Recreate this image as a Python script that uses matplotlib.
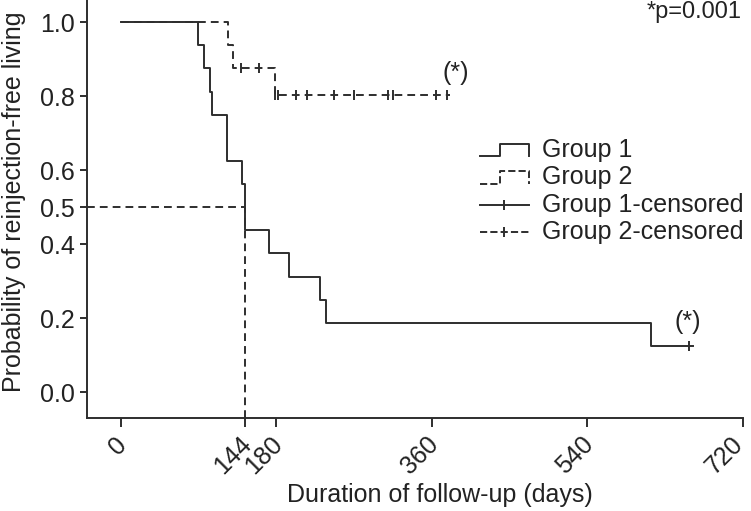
import numpy as np
import matplotlib.pyplot as plt
import matplotlib.transforms as mtransforms
from matplotlib.legend_handler import HandlerBase
from matplotlib.lines import Line2D

plt.rcParams['font.family'] = ['Liberation Sans', 'DejaVu Sans']

# Kaplan-Meier estimates (days, survival)
g1_times = [0, 90, 96, 103, 106, 123, 140.5, 143.5, 171, 195, 231, 238, 614]
g1_surv = [1.0, 0.9375, 0.875, 0.8125, 0.75, 0.625, 0.5625, 0.4375, 0.375, 0.3125, 0.25, 0.1875, 0.125]
g1_end = 662
g1_censor = [658]

g2_times = [0, 124, 130, 178]
g2_surv = [1.0, 0.9375, 0.875, 0.802]
g2_end = 381
g2_censor = [139, 160.5, 178.6, 181.7, 202.6, 215.3, 247.2, 269.4, 309.7, 315.5, 364.9, 377.3]

median_day = 144
median_surv = 0.5

xticks = [0, 144, 180, 360, 540, 720]
yticks = [0.0, 0.2, 0.4, 0.5, 0.6, 0.8, 1.0]

col = '#2e2e2e'
tcol = '#222222'
lw = 1.4
fs = 18
dash = (0, (4, 2.6))


def surv_at(times, surv, t):
    i = np.searchsorted(times, t, side='right') - 1
    return np.array(surv)[i]


class StepHandler(HandlerBase):
    def create_artists(self, legend, orig, xd, yd, w, h, fs, trans):
        x = [-xd, -xd + 0.4 * w, -xd + 0.4 * w, -xd + w, -xd + w]
        y = [-yd + 0.05 * h, -yd + 0.05 * h, -yd + 0.75 * h, -yd + 0.75 * h, -yd + 0.05 * h]
        ln = Line2D(x, y, color=orig.get_color(), lw=orig.get_linewidth(),
                    linestyle=orig.get_linestyle(), transform=trans)
        return [ln]


class CensorHandler(HandlerBase):
    def create_artists(self, legend, orig, xd, yd, w, h, fs, trans):
        ym = -yd + 0.4 * h
        ln = Line2D([-xd, -xd + w], [ym, ym], color=orig.get_color(), lw=orig.get_linewidth(),
                    linestyle=orig.get_linestyle(), transform=trans)
        mk = Line2D([-xd + w / 2], [ym], color=orig.get_color(), marker='|', ms=7, mew=lw,
                    ls='none', transform=trans)
        return [ln, mk]


fig = plt.figure(figsize=(7.51, 5.11), dpi=100)
ax = fig.add_axes([87 / 751, 93 / 511, 656 / 751, 418 / 511])

# median lines
ax.plot([-39, median_day], [median_surv, median_surv], color=col, lw=lw, ls=dash)
ax.plot([median_day, median_day], [-0.07, median_surv], color=col, lw=lw, ls=dash)

# group 2 (dashed) then group 1 (solid) on top
g2_x = g2_times + [g2_end]
g2_y = g2_surv + [g2_surv[-1]]
ax.step(g2_x, g2_y, where='post', color=col, lw=lw, ls=dash)
ax.plot(g2_censor, surv_at(g2_times, g2_surv, g2_censor), ls='none', marker='|',
        ms=7, mew=lw, color=col)

g1_x = g1_times + [g1_end]
g1_y = g1_surv + [g1_surv[-1]]
ax.step(g1_x, g1_y, where='post', color=col, lw=lw)
ax.plot(g1_censor, surv_at(g1_times, g1_surv, g1_censor), ls='none', marker='|',
        ms=7, mew=lw, color=col)

ax.text(388, 0.862, '(*)', fontsize=fs, ha='center', va='center', color=tcol)
ax.text(656, 0.19, '(*)', fontsize=fs, ha='center', va='center', color=tcol)
ax.text(719, 1.01, '*p=0.001', fontsize=fs - 1, ha='right', va='baseline', color=tcol)

ax.set_xlim(-39, 720)
ax.set_ylim(-0.07, 1.06)
ax.set_xticks(xticks)
ax.set_yticks(yticks)
ax.set_yticklabels([f'{v:.1f}' for v in yticks])
ax.tick_params(axis='x', length=6.5, width=lw, color=col, labelsize=fs, pad=10, labelcolor=tcol)
ax.tick_params(axis='y', length=5, width=lw, color=col, labelsize=fs, pad=3.5, labelcolor=tcol)
# nudge rotated labels a little to the right, like the original (last one stays inside)
labels = ax.get_xticklabels()
for k, lab in enumerate(labels):
    dx = 2.5 if k < len(labels) - 1 else -4
    lab.set_rotation(45)
    lab.set_ha('right')
    lab.set_va('center')
    lab.set_rotation_mode('anchor')
    lab.set_transform(lab.get_transform()
                      + mtransforms.ScaledTranslation(dx / 100, 0, fig.dpi_scale_trans))

for s in ['top', 'right']:
    ax.spines[s].set_visible(False)
for s in ['left', 'bottom']:
    ax.spines[s].set_linewidth(lw)
    ax.spines[s].set_color(col)

ax.set_xlabel('Duration of follow-up (days)', fontsize=fs, color=tcol)
ax.xaxis.set_label_coords(0.538, -0.156)
ax.set_ylabel('Probability of reinjection-free living', fontsize=fs, color=tcol)
ax.yaxis.set_label_coords(-0.093, 0.517)

h1 = Line2D([], [], color=col, lw=lw)
h2 = Line2D([], [], color=col, lw=lw, ls=dash)
h3 = Line2D([], [], color=col, lw=lw)
h4 = Line2D([], [], color=col, lw=lw, ls=dash)
leg = fig.legend([h1, h2, h3, h4], ['Group 1', 'Group 2', 'Group 1-censored', 'Group 2-censored'],
                 handler_map={h1: StepHandler(), h2: StepHandler(),
                              h3: CensorHandler(), h4: CensorHandler()},
                 loc='center left', bbox_to_anchor=(480 / 751, 1 - 191 / 511),
                 frameon=False, fontsize=fs, handlelength=1.95, handletextpad=0.55,
                 labelspacing=0.13, borderpad=0, borderaxespad=0)
for t in leg.get_texts():
    t.set_color(tcol)

fig.savefig('out.png', dpi=100)
